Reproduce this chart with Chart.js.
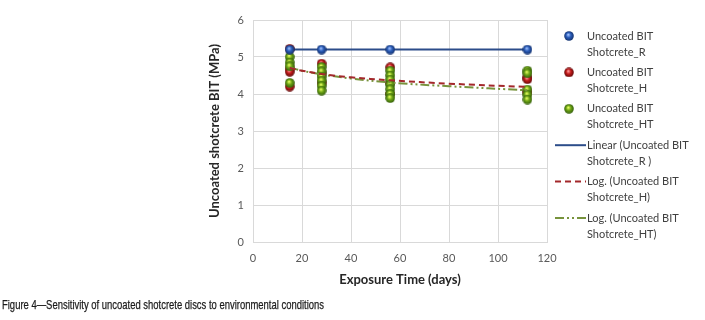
<!DOCTYPE html>
<html>
<head>
<meta charset="utf-8">
<script src="https://cdn.jsdelivr.net/npm/chart.js@4.4.0/dist/chart.umd.min.js"></script>
<style>
  html, body { margin: 0; padding: 0; background: #fff; }
  #wrap { position: relative; width: 705px; height: 320px; }
  #caption {
    position: absolute; left: 2px; top: 297px;
    font-family: 'Liberation Sans Narrow', 'Arial Narrow', 'Liberation Sans', sans-serif;
    font-size: 13.5px; color: #1a1a1a; white-space: nowrap;
    transform: scaleX(0.70); transform-origin: 0 0;
    -webkit-text-stroke: 0.25px #1a1a1a;
  }
</style>
</head>
<body>
<div id="wrap">
  <canvas id="chart" width="705" height="320"></canvas>
  <div id="caption">Figure 4—Sensitivity of uncoated shotcrete discs to environmental conditions</div>
</div>
<script>
// x axis ticks and y axis ticks
const xTicks = [0, 20, 40, 60, 80, 100, 120];
const yTicks = [0, 1, 2, 3, 4, 5, 6];

// Uncoated BIT Shotcrete_R
const rDays = [15, 28, 56, 112];
const rValues = [5.2, 5.2, 5.2, 5.2];

// Uncoated BIT Shotcrete_H
const hDays = [15, 15, 15, 15, 28, 28, 28, 56, 56, 56, 112, 112, 112];
const hValues = [5.22, 4.68, 4.6, 4.2, 4.82, 4.55, 4.3, 4.72, 4.3, 4.0, 4.45, 4.4, 4.05];

// Uncoated BIT Shotcrete_HT
const htDays = [15, 15, 15, 15, 28, 28, 28, 28, 28, 28, 56, 56, 56, 56, 56, 56, 56, 112, 112, 112, 112, 112];
const htValues = [5.0, 4.85, 4.75, 4.3, 4.73, 4.61, 4.47, 4.36, 4.22, 4.09, 4.63, 4.5, 4.39, 4.25, 4.13, 4.0, 3.89, 4.63, 4.56, 4.12, 3.98, 3.85];

// trend lines
const linDays = [15, 112];
const linValues = [5.2, 5.2];
const trendDays = [15, 20, 28, 40, 56, 80, 112];
const logHValues = [4.70, 4.63, 4.54, 4.45, 4.37, 4.28, 4.19];
const logHTValues = [4.72, 4.63, 4.53, 4.42, 4.31, 4.21, 4.10];

const legendLabels = [
  ['Uncoated BIT', 'Shotcrete_R'],
  ['Uncoated BIT', 'Shotcrete_H'],
  ['Uncoated BIT', 'Shotcrete_HT'],
  ['Linear (Uncoated BIT', 'Shotcrete_R )'],
  ['Log. (Uncoated BIT', 'Shotcrete_H)'],
  ['Log. (Uncoated BIT', 'Shotcrete_HT)']
];

const FONT = 'Lato, "Open Sans", sans-serif';

function ball(dark, mid, light) {
  const c = document.createElement('canvas');
  c.width = 10; c.height = 10;
  const g = c.getContext('2d');
  const grad = g.createRadialGradient(4.2, 3.6, 0.3, 5, 5, 5);
  grad.addColorStop(0, light);
  grad.addColorStop(0.45, mid);
  grad.addColorStop(1, dark);
  g.fillStyle = grad;
  g.beginPath();
  g.arc(5, 5, 4.8, 0, Math.PI * 2);
  g.fill();
  return c;
}

const blueBall = ball('#13306b', '#2a5cb8', '#9ec0ff');
const redBall = ball('#5e0a0a', '#c21a1a', '#ff9a9a');
const greenBall = ball('#2f5a08', '#6ea516', '#e8ff60');

function pts(xs, ys) {
  return xs.map((x, i) => ({ x: x, y: ys[i] }));
}

const legendPlugin = {
  id: 'sideLegend',
  afterDraw(chart) {
    const ctx = chart.ctx;
    ctx.save();
    ctx.font = '11px ' + FONT;
    ctx.fillStyle = '#404040';
    ctx.textBaseline = 'middle';
    legendLabels.forEach((lines, i) => {
      const y = 36 + i * 36.4;
      if (i === 0) ctx.drawImage(blueBall, 564, y - 5);
      if (i === 1) ctx.drawImage(redBall, 564, y - 5);
      if (i === 2) ctx.drawImage(greenBall, 564, y - 5);
      if (i >= 3) {
        ctx.beginPath();
        ctx.lineWidth = 2;
        if (i === 3) { ctx.strokeStyle = '#2c4d8a'; ctx.setLineDash([]); }
        if (i === 4) { ctx.strokeStyle = '#a3282b'; ctx.setLineDash([6, 4]); }
        if (i === 5) { ctx.strokeStyle = '#77933c'; ctx.setLineDash([9, 3, 2, 3, 2, 3]); }
        ctx.moveTo(555, y);
        ctx.lineTo(586, y);
        ctx.stroke();
        ctx.setLineDash([]);
      }
      ctx.fillText(lines[0], 587, y);
      ctx.fillText(lines[1], 587, y + 16);
    });
    ctx.restore();
  }
};

new Chart(document.getElementById('chart'), {
  type: 'scatter',
  data: {
    datasets: [
      { label: 'Uncoated BIT Shotcrete_R', data: pts(rDays, rValues), pointStyle: blueBall, order: 2 },
      { label: 'Uncoated BIT Shotcrete_H', data: pts(hDays, hValues), pointStyle: redBall, order: 3 },
      { label: 'Uncoated BIT Shotcrete_HT', data: pts(htDays, htValues), pointStyle: greenBall, order: 2 },
      { label: 'Linear (Uncoated BIT Shotcrete_R )', data: pts(linDays, linValues), showLine: true,
        borderColor: '#2c4d8a', borderWidth: 2, pointRadius: 0, order: 4 },
      { label: 'Log. (Uncoated BIT Shotcrete_H)', data: pts(trendDays, logHValues), showLine: true,
        borderColor: '#a3282b', borderWidth: 2, borderDash: [6, 4], pointRadius: 0, tension: 0.4, order: 1 },
      { label: 'Log. (Uncoated BIT Shotcrete_HT)', data: pts(trendDays, logHTValues), showLine: true,
        borderColor: '#77933c', borderWidth: 2, borderDash: [9, 3, 2, 3, 2, 3], pointRadius: 0, tension: 0.4, order: 1 }
    ]
  },
  options: {
    responsive: false,
    animation: false,
    layout: { padding: { left: 203, right: 158, top: 20, bottom: 28 } },
    plugins: { legend: { display: false }, tooltip: { enabled: false } },
    scales: {
      x: {
        type: 'linear', min: 0, max: 120,
        afterBuildTicks: s => { s.ticks = xTicks.map(v => ({ value: v })); },
        afterFit: s => { s.height = 50; },
        grid: { color: '#d9d9d9', drawTicks: false },
        border: { color: '#d9d9d9' },
        ticks: { padding: 10, color: '#595959', font: { family: FONT, size: 11 } },
        title: { display: true, text: 'Exposure Time (days)', color: '#262626',
          font: { family: FONT, size: 13, weight: 'bold' } }
      },
      y: {
        type: 'linear', min: 0, max: 6,
        afterBuildTicks: s => { s.ticks = yTicks.map(v => ({ value: v })); },
        afterFit: s => { s.width = 50; },
        grid: { color: '#d9d9d9', drawTicks: false },
        border: { color: '#d9d9d9' },
        ticks: { padding: 9, color: '#595959', font: { family: FONT, size: 11 } },
        title: { display: true, text: 'Uncoated shotcrete BIT (MPa)', color: '#262626',
          font: { family: FONT, size: 13, weight: 'bold' } }
      }
    }
  },
  plugins: [legendPlugin]
});
</script>
</body>
</html>
